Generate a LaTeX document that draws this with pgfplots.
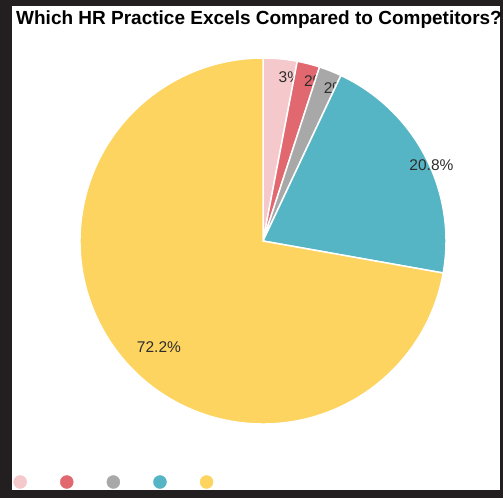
\documentclass[border=0pt]{standalone}
\usepackage{pgfplots}
\usepackage{pgfplotstable}
\pgfplotsset{compat=1.18}
\usepackage{fontspec}
\setmainfont{Liberation Sans}
\definecolor{framec}{RGB}{35,31,32}
\definecolor{pinkc}{RGB}{245,200,204}
\definecolor{redc}{RGB}{226,104,112}
\definecolor{grayc}{RGB}{168,168,168}
\definecolor{tealc}{RGB}{86,181,196}
\definecolor{yellowc}{RGB}{253,212,96}
\definecolor{labelc}{RGB}{45,45,45}
\newcommand\labelfont{\fontsize{15.5bp}{18bp}\selectfont}
\pgfplotstableread{
label value color
A 3 pinkc
B 2 redc
C 2 grayc
D 20.8 tealc
E 72.2 yellowc
}\piedata
\begin{document}
\begin{tikzpicture}
\useasboundingbox (0,0) rectangle (503bp,498bp);
\fill[framec] (0,0) rectangle (503bp,498bp);
\fill[white] (11.5bp,8bp) rectangle (500bp,491.5bp);
\begin{axis}[
  hide axis, clip=false,
  scale only axis, width=366bp, height=366bp,
  xmin=-1, xmax=1, ymin=-1, ymax=1,
  at={(263bp,257bp)}, anchor=center,
  title={Which HR Practice Excels Compared to Competitors?},
  title style={at={(-0.17486,1.0751)}, anchor=base west, inner sep=0pt,
    font=\fontsize{19bp}{22bp}\selectfont\bfseries, text=black},
  legend image code/.code={\fill[#1] (6.5bp,0bp) circle (6.5bp);},
  legend columns=5,
  legend style={at={(-0.1817,-0.1585)}, anchor=west, draw=none, fill=none,
    inner sep=0pt, outer sep=0pt, nodes={inner sep=0pt},
    /tikz/every odd column/.append style={column sep=0pt},
    /tikz/every even column/.append style={column sep=32.2bp}},
]
\pgfplotstablegetrowsof{\piedata}
\pgfmathtruncatemacro\lastrow{\pgfplotsretval-1}
\gdef\angcur{90}
\pgfplotsforeachungrouped \i in {0,...,\lastrow}{%
  \pgfplotstablegetelem{\i}{value}\of\piedata \let\pv\pgfplotsretval
  \pgfplotstablegetelem{\i}{color}\of\piedata \let\pc\pgfplotsretval
  \pgfmathsetmacro\angnext{\angcur-3.6*\pv}%
  \pgfmathsetmacro\angmid{(\angcur+\angnext)/2}%
  \edef\piecmd{%
    \noexpand\fill[\pc, draw=white, line width=1.5bp] (axis cs:0,0) -- (axis cs:{cos(\angcur)},{sin(\angcur)}) arc[start angle=\angcur, end angle=\angnext, radius=183bp] -- cycle;
    \noexpand\node[anchor=west, inner sep=0pt, text=labelc, font=\noexpand\labelfont] at (axis cs:{0.9*cos(\angmid)},{0.9*sin(\angmid)}) {\pv\noexpand\%};
  }%
  \piecmd
  \global\let\angcur\angnext
}
\addlegendimage{pinkc}\addlegendentry{\mbox{}}
\addlegendimage{redc}\addlegendentry{\mbox{}}
\addlegendimage{grayc}\addlegendentry{\mbox{}}
\addlegendimage{tealc}\addlegendentry{\mbox{}}
\addlegendimage{yellowc}\addlegendentry{\mbox{}}
\end{axis}
\end{tikzpicture}
\end{document}
